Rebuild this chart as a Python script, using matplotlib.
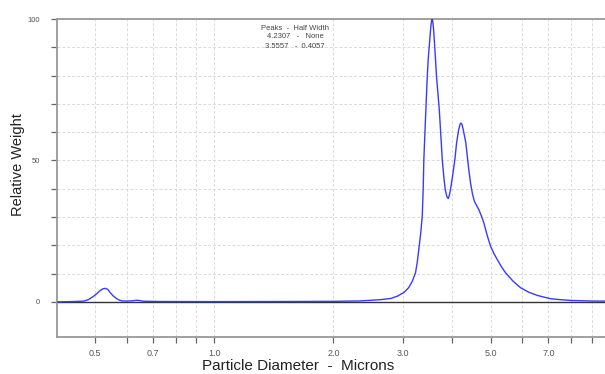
import matplotlib
matplotlib.use("Agg")
import matplotlib.pyplot as plt
from matplotlib.ticker import FixedLocator, NullFormatter, FixedFormatter

plt.rcParams['font.family'] = ['Liberation Sans', 'DejaVu Sans']

# Particle diameter (microns) and relative weight
diameter = [0.40, 0.43, 0.455, 0.467, 0.48, 0.495, 0.505, 0.514, 0.522, 0.530, 0.538,
            0.545, 0.555, 0.567, 0.576, 0.584, 0.60, 0.62, 0.637, 0.65, 0.66, 0.73,
            1.0, 1.5, 2.0, 2.34, 2.63, 2.79, 2.90, 3.015, 3.10, 3.168, 3.228, 3.26,
            3.29, 3.325, 3.357, 3.375, 3.388, 3.41, 3.428, 3.456, 3.476, 3.496, 3.515,
            3.53, 3.545, 3.557, 3.57, 3.585, 3.61, 3.648, 3.707, 3.74, 3.772, 3.81,
            3.84, 3.875, 3.905, 3.93, 3.96, 4.01, 4.059, 4.10, 4.15, 4.18, 4.202,
            4.23, 4.26, 4.295, 4.327, 4.36, 4.40, 4.447, 4.50, 4.55, 4.61, 4.668,
            4.74, 4.806, 4.90, 4.996, 5.10, 5.195, 5.32, 5.454, 5.70, 5.953, 6.25,
            6.561, 7.09, 7.50, 7.965, 8.8, 9.656, 9.9]
weight = [0.0, 0.1, 0.2, 0.28, 0.8, 2.0, 3.0, 4.0, 4.6, 4.8, 4.4,
          3.3, 2.1, 1.1, 0.6, 0.35, 0.3, 0.4, 0.6, 0.45, 0.25, 0.15,
          0.1, 0.15, 0.2, 0.35, 0.8, 1.2, 2.0, 3.3, 5.0, 7.3, 10.3, 14.0,
          18.5, 24.0, 30.3, 40.0, 50.3, 60.0, 67.9, 79.6, 86.0, 90.2, 94.5,
          97.5, 99.4, 100.0, 99.0, 96.5, 90.2, 79.6, 67.9, 59.0, 50.3, 43.5,
          39.5, 37.2, 36.5, 37.6, 40.0, 45.0, 50.3, 56.2, 60.8, 62.6, 63.2,
          62.8, 61.0, 58.5, 56.2, 52.0, 47.0, 42.0, 38.0, 35.5, 34.0, 32.6,
          30.3, 27.9, 23.5, 19.7, 17.0, 15.0, 12.5, 10.3, 7.3, 5.0, 3.4,
          2.3, 1.13, 0.8, 0.53, 0.35, 0.28, 0.28]

major_x = [0.5, 0.7, 1.0, 2.0, 3.0, 5.0, 7.0]
major_x_labels = ["0.5", "0.7", "1.0", "2.0", "3.0", "5.0", "7.0"]
minor_x = [0.6, 0.8, 0.9, 4.0, 6.0, 8.0, 9.0]
y_ticks = [0, 10, 20, 30, 40, 50, 60, 70, 80, 90, 100]
y_labels = ["0", "", "", "", "", "50", "", "", "", "", "100"]

peak_lines = ["Peaks  -  Half Width", "4.2307   -   None", "3.5557   -  0.4057"]

fig = plt.figure(figsize=(6.05, 3.74), dpi=100)
ax = fig.add_axes([57/605, 1 - 337/374, 1 - 57/605 + 0.002, (337 - 19)/374])

ax.set_xscale('log')
ax.set_xlim(0.40, 9.8)
ax.set_ylim(-12.4, 100)

ax.xaxis.set_major_locator(FixedLocator(major_x))
ax.xaxis.set_major_formatter(FixedFormatter(major_x_labels))
ax.xaxis.set_minor_locator(FixedLocator(minor_x))
ax.xaxis.set_minor_formatter(NullFormatter())
ax.set_yticks(y_ticks)
ax.set_yticklabels(y_labels)

ax.grid(True, which='both', axis='x', color='#dadada', linestyle=(0, (3, 2)), linewidth=0.7)
ax.grid(True, which='major', axis='y', color='#dadada', linestyle=(0, (3, 2)), linewidth=0.7)
ax.set_axisbelow(True)

ax.axhline(0, color='#333333', linewidth=1.0, zorder=2)
ax.plot(diameter, weight, color='#3a3aff', linewidth=1.0, zorder=3)

for side in ['left', 'top', 'bottom']:
    ax.spines[side].set_color('#999999')
    ax.spines[side].set_linewidth(1.3)
ax.spines['right'].set_visible(False)

ax.tick_params(axis='x', which='both', direction='out', length=4, width=0.9,
               color='#666666', labelsize=6.5, labelcolor='#555555', pad=5)
ax.tick_params(axis='y', which='both', direction='out', length=4, width=0.9,
               color='#666666', labelsize=5.5, labelcolor='#555555', pad=8)

fig.text(298/605, 1 - 366/374, "Particle Diameter  -  Microns", ha='center', va='center',
         fontsize=11, color='#222222')
fig.text(18/605, 1 - 165/374, "Relative Weight", ha='center', va='center',
         rotation=90, fontsize=10.5, color='#222222')

for i, line in enumerate(peak_lines):
    fig.text(295/605, 1 - (28 + 9 * i)/374, line, ha='center', va='center',
             fontsize=5.5, color='#444444')

fig.savefig("out.png", dpi=100)
